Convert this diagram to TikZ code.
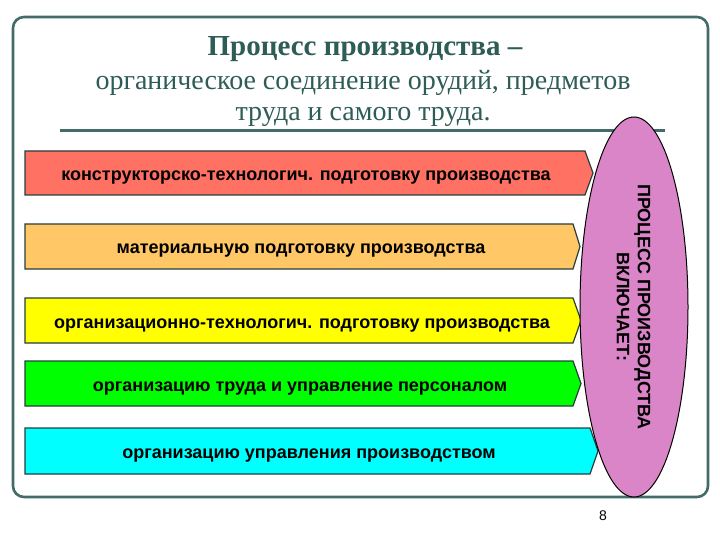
\documentclass[tikz,border=0pt]{standalone}
\usepackage{fontspec}
\setmainfont{Liberation Serif}
\setsansfont{Liberation Sans}
\usetikzlibrary{shapes.geometric}
\definecolor{frame}{HTML}{436B68}
\definecolor{titlec}{HTML}{2E5C57}
\definecolor{c1}{HTML}{FF7163}
\definecolor{c2}{HTML}{FFC766}
\definecolor{c3}{HTML}{FFFF00}
\definecolor{c4}{HTML}{00FF00}
\definecolor{c5}{HTML}{00FFFF}
\definecolor{ell}{HTML}{DA85C8}
\definecolor{edge}{HTML}{24403E}
\tikzset{
  arrowbox/.style={draw=edge, line width=1.2pt, line join=miter},
  arrowtext/.style={font=\sffamily\bfseries\fontsize{18}{21}\selectfont, text=black, inner sep=0pt, anchor=base},
  titletext/.style={font=\fontsize{28}{32}\selectfont, text=titlec, inner sep=0pt, anchor=base},
}
\begin{document}
\begin{tikzpicture}[x=1pt,y=-1pt]
\useasboundingbox (0,0) rectangle (720,540);
\fill[white] (0,0) rectangle (720,540);
% frame
\draw[frame, line width=2.6pt, rounded corners=11pt, fill=white] (13,17) rectangle (708,497);
% title
\node[titletext, font=\bfseries\fontsize{29}{32}\selectfont] (t1) at (365,56) {Процесс производства –};
\node[titletext] (t2) at (363,89.5) {органическое соединение орудий, предметов};
\node[titletext] (t3) at (363,120.5) {труда и самого труда.};
\draw[frame, line width=3pt] (60,131) -- (665,131);
% arrows
\draw[arrowbox, fill=c1] (25,151) -- (585,151) -- (593,173) -- (585,195) -- (25,195) -- cycle;
\node[arrowtext] (a1) at (306,180.5) {конструкторско-технологич. подготовку производства};
\draw[arrowbox, fill=c2] (25,224) -- (573,224) -- (580,246.5) -- (573,269) -- (25,269) -- cycle;
\node[arrowtext] (a2) at (301,254) {материальную подготовку производства};
\draw[arrowbox, fill=c3] (25,298) -- (573,298) -- (581,320.5) -- (573,343) -- (25,343) -- cycle;
\node[arrowtext] (a3) at (302,328) {организационно-технологич. подготовку производства};
\draw[arrowbox, fill=c4] (25,361) -- (573,361) -- (581,383.5) -- (573,406) -- (25,406) -- cycle;
\node[arrowtext] (a4) at (300,391) {организацию труда и управление персоналом};
\draw[arrowbox, fill=c5] (25,428) -- (590,428) -- (598,451) -- (590,474) -- (25,474) -- cycle;
\node[arrowtext] (a5) at (309,458.5) {организацию управления производством};
% ellipse
\node[ellipse, draw=black, line width=1pt, fill=ell, minimum width=108pt, minimum height=380pt, inner sep=0pt] (e) at (634,307) {};
\node[rotate=-90, align=center, font=\sffamily\bfseries\fontsize{18}{21}\selectfont, inner sep=0pt] (et) at (633.5,307) {ПРОЦЕСС ПРОИЗВОДСТВА\\ВКЛЮЧАЕТ:};
% page number
\node[font=\sffamily\fontsize{14}{16}\selectfont, inner sep=0pt, anchor=base] (pn) at (603,520) {8};
\end{tikzpicture}
\end{document}
